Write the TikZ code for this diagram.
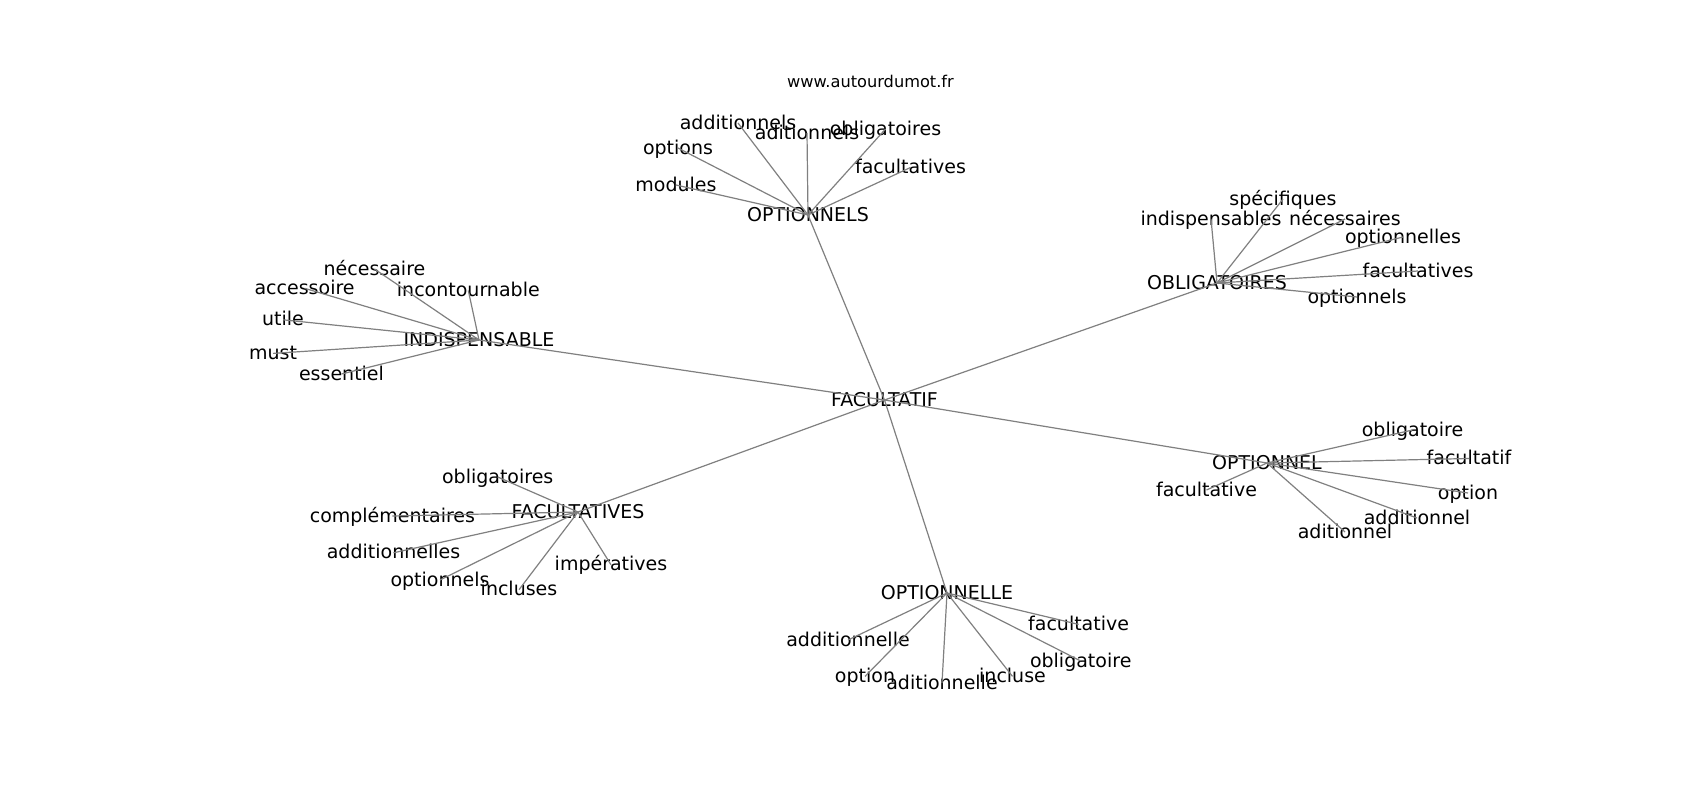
\documentclass[tikz,border=0pt]{standalone}
\usepackage{fontspec}
\setmainfont{DejaVu Sans}
\begin{document}
\begin{tikzpicture}[x=1pt,y=-1pt,
  lbl/.style={inner sep=0pt, text height=1.2em, text depth=0pt, anchor=center, font=\fontsize{19}{19}\selectfont, text=black},
  ttl/.style={inner sep=0pt, text height=0.73em, text depth=0pt, anchor=center, font=\fontsize{16.2}{16.2}\selectfont, text=black},
  edge/.style={draw=black!50, line width=1.2pt}]
\useasboundingbox[fill=white] (0,0) rectangle (1700,800);
\node[ttl] (title) at (870.5,84) {www.autourdumot.fr};
% hubs
\node[lbl] (c) at (884.5,400) {FACULTATIF};
\node[lbl] (h1) at (808,215) {OPTIONNELS};
\node[lbl] (h2) at (1217,283) {OBLIGATOIRES};
\node[lbl] (h3) at (1267,463) {OPTIONNEL};
\node[lbl] (h4) at (947,593) {OPTIONNELLE};
\node[lbl] (h5) at (578,512) {FACULTATIVES};
\node[lbl] (h6) at (479,340) {INDISPENSABLE};
% leaves h1
\node[lbl] (a1) at (738,123) {additionnels};
\node[lbl] (a2) at (807,133) {aditionnels};
\node[lbl] (a3) at (885.5,129) {obligatoires};
\node[lbl] (a4) at (678,148) {options};
\node[lbl] (a5) at (676,185) {modules};
\node[lbl] (a6) at (910.5,167.5) {facultatives};
% leaves h2
\node[lbl] (b1) at (1283,199) {spécifiques};
\node[lbl] (b2) at (1211,219) {indispensables};
\node[lbl] (b3) at (1345,219) {nécessaires};
\node[lbl] (b4) at (1403,237) {optionnelles};
\node[lbl] (b5) at (1418,271) {facultatives};
\node[lbl] (b6) at (1357,297) {optionnels};
% leaves h3
\node[lbl] (d1) at (1412.5,430) {obligatoire};
\node[lbl] (d2) at (1469,458.5) {facultatif};
\node[lbl] (d3) at (1468,493) {option};
\node[lbl] (d4) at (1417,518) {additionnel};
\node[lbl] (d5) at (1345,532) {aditionnel};
\node[lbl] (d6) at (1206.5,490) {facultative};
% leaves h4
\node[lbl] (e1) at (1078.6,624.4) {facultative};
\node[lbl] (e2) at (1080.7,661) {obligatoire};
\node[lbl] (e3) at (1012.5,676.4) {incluse};
\node[lbl] (e4) at (942,683) {aditionnelle};
\node[lbl] (e5) at (865,676.4) {option};
\node[lbl] (e6) at (848,640) {additionnelle};
% leaves h5
\node[lbl] (f1) at (497.7,477) {obligatoires};
\node[lbl] (f2) at (392.4,516) {complémentaires};
\node[lbl] (f3) at (393.5,552.8) {additionnelles};
\node[lbl] (f4) at (440,580) {optionnels};
\node[lbl] (f5) at (519,589.7) {incluses};
\node[lbl] (f6) at (611,564.8) {impératives};
% leaves h6
\node[lbl] (g1) at (374.5,269) {nécessaire};
\node[lbl] (g2) at (304.6,288.3) {accessoire};
\node[lbl] (g3) at (468.3,290.5) {incontournable};
\node[lbl] (g4) at (283,319.8) {utile};
\node[lbl] (g5) at (273,353.4) {must};
\node[lbl] (g6) at (341.5,374) {essentiel};
% edges
\foreach \h in {h1,h2,h3,h4,h5,h6} \draw[edge] (c.center) -- (\h.center);
\foreach \l in {a1,a2,a3,a4,a5,a6} \draw[edge] (h1.center) -- (\l.center);
\foreach \l in {b1,b2,b3,b4,b5,b6} \draw[edge] (h2.center) -- (\l.center);
\foreach \l in {d1,d2,d3,d4,d5,d6} \draw[edge] (h3.center) -- (\l.center);
\foreach \l in {e1,e2,e3,e4,e5,e6} \draw[edge] (h4.center) -- (\l.center);
\foreach \l in {f1,f2,f3,f4,f5,f6} \draw[edge] (h5.center) -- (\l.center);
\foreach \l in {g1,g2,g3,g4,g5,g6} \draw[edge] (h6.center) -- (\l.center);
\end{tikzpicture}
\end{document}
